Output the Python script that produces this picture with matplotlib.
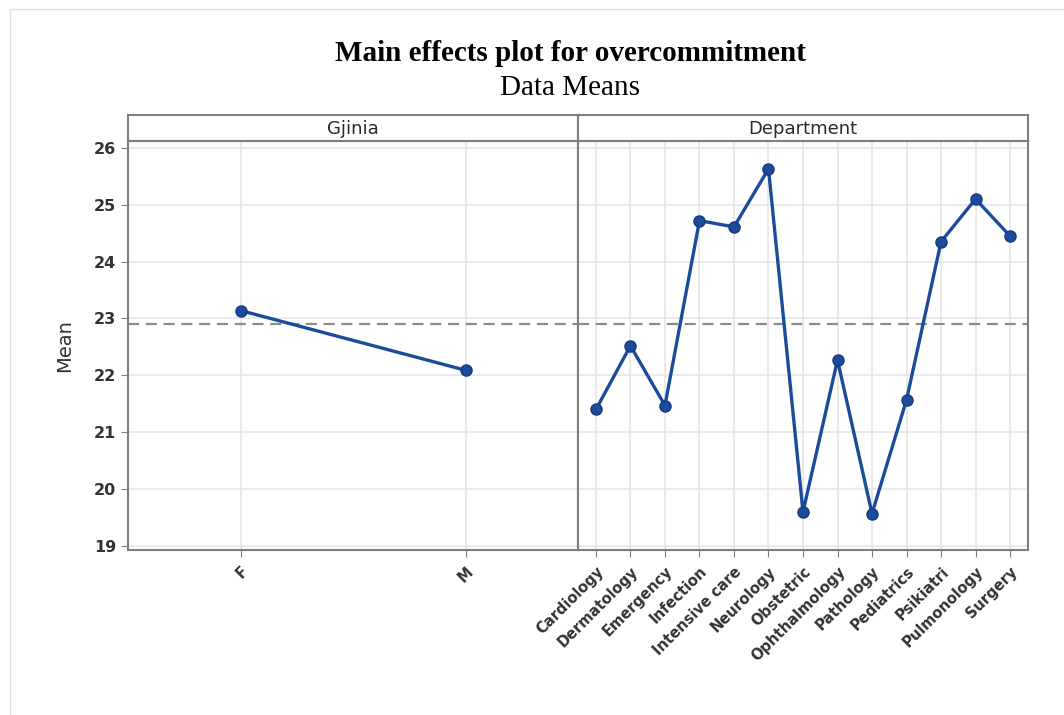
import matplotlib.pyplot as plt
from matplotlib.patches import Rectangle

gender = ["F", "M"]
gender_means = [23.14, 22.09]

departments = ["Cardiology", "Dermatology", "Emergency", "Infection", "Intensive care",
               "Neurology", "Obstetric", "Ophthalmology", "Pathology", "Pediatrics",
               "Psikiatri", "Pulmonology", "Surgery"]
dept_means = [21.40, 22.52, 21.47, 24.72, 24.61, 25.63, 19.60, 22.27, 19.57, 21.57,
              24.35, 25.10, 24.45]

grand_mean = 22.91
y_ticks = [19, 20, 21, 22, 23, 24, 25, 26]

line_col = "#1d4b9b"
spine_col = "#7f7f7f"

fig = plt.figure(figsize=(10.64, 7.15), dpi=100)
fig.patches.append(Rectangle((0.009, -0.01), 1.2, 0.997, transform=fig.transFigure,
                             fill=False, edgecolor="#dddddd", linewidth=1))

left, mid, right = 128 / 1064, 578 / 1064, 1028 / 1064
bottom, top, head_top = 1 - 550 / 715, 1 - 141 / 715, 1 - 115 / 715

ax1 = fig.add_axes([left, bottom, mid - left, top - bottom])
ax2 = fig.add_axes([mid, bottom, right - mid, top - bottom], sharey=ax1)

panels = [
    (ax1, gender, gender_means, "Gjinia"),
    (ax2, departments, dept_means, "Department"),
]

for ax, cats, vals, head in panels:
    xs = list(range(1, len(cats) + 1))
    ax.axhline(grand_mean, color="#8c8c8c", linestyle=(0, (5, 3)), linewidth=1.6, zorder=2)
    ax.plot(xs, vals, color=line_col, linewidth=2.4, marker="o", markersize=8,
            markerfacecolor=line_col, markeredgecolor="#123a80", zorder=3)
    ax.set_xlim(0.5, len(cats) + 0.5)
    ax.set_xticks(xs)
    ax.set_xticklabels(cats, rotation=45, ha="right", rotation_mode="anchor",
                       fontsize=10.5, color="#333333", fontweight="bold")
    ax.grid(True, color="#e6e6e6", linewidth=1.2)
    ax.set_axisbelow(True)
    for s in ax.spines.values():
        s.set_color(spine_col)
        s.set_linewidth(1.5)
    ax.tick_params(axis="x", direction="out", length=5, color=spine_col, pad=5)

    # header strip
    hx = ax.get_position().x0
    hw = ax.get_position().width
    hax = fig.add_axes([hx, top, hw, head_top - top])
    hax.set_xticks([])
    hax.set_yticks([])
    for s in hax.spines.values():
        s.set_color(spine_col)
        s.set_linewidth(1.5)
    hax.text(0.5, 0.45, head, ha="center", va="center", fontsize=13, color="#2a2a2a",
             transform=hax.transAxes)

ax2.set_xlim(0.48, len(departments) + 0.52)
ax1.set_ylim(18.93, 26.12)
ax1.set_yticks(y_ticks)
ax1.tick_params(axis="y", direction="out", length=5, color=spine_col, labelsize=11.5,
                labelcolor="#333333")
for lab in ax1.get_yticklabels():
    lab.set_fontweight("bold")
ax2.tick_params(axis="y", left=False, labelleft=False)
ax1.set_ylabel("Mean", fontsize=14, color="#333333", labelpad=14)

fig.text(0.536, 0.925, "Main effects plot for overcommitment", ha="center", va="center",
         fontsize=21, fontweight="bold", family="Liberation Serif")
fig.text(0.536, 0.877, "Data Means", ha="center", va="center", fontsize=21,
         family="Liberation Serif")

fig.savefig("out.png", dpi=100)
